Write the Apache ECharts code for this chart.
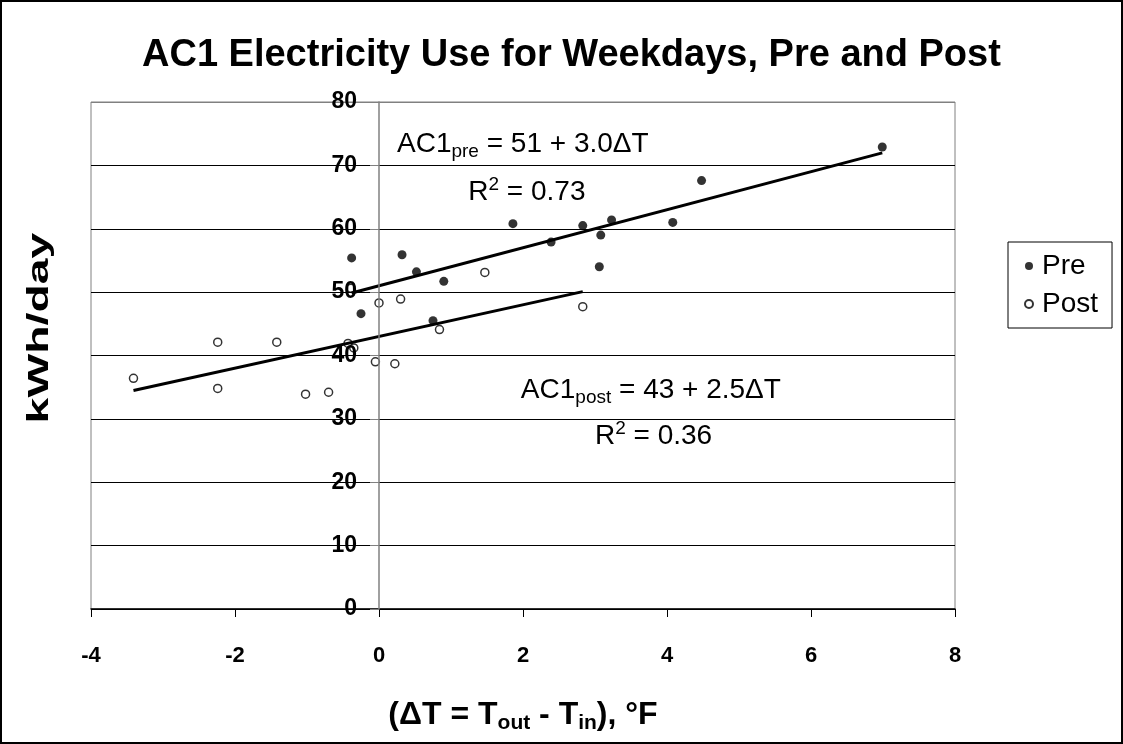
<!DOCTYPE html>
<html>
<head>
<meta charset="utf-8">
<script src="https://cdn.jsdelivr.net/npm/echarts/dist/echarts.min.js"></script>
<style>
html, body { margin: 0; padding: 0; background: #fff; }
#main { width: 1123px; height: 744px; }
</style>
</head>
<body>
<div id="main"></div>
<script>
// pre period, weekdays: dT (F) and kWh/day
var preX = [-0.38, 0.32, 0.52, 0.90, -0.25, 0.75, 1.86, 2.39, 2.83, 3.08, 3.23, 3.06, 4.08, 4.48, 6.99];
var preY = [55.4, 55.9, 53.2, 51.7, 46.6, 45.5, 60.8, 57.9, 60.5, 59.0, 61.4, 54.0, 61.0, 67.6, 72.9];
// post period
var postX = [-0.39, 0.00, 0.30, 1.47, 0.84, -2.24, -1.42, -0.43, -0.35, -0.05, 0.22, -3.41, -2.24, -1.02, -0.70, 2.83];
var postY = [50.6, 48.3, 48.9, 53.1, 44.1, 42.1, 42.1, 41.9, 41.2, 39.0, 38.7, 36.4, 34.8, 33.9, 34.2, 47.7];
// fitted lines: [intercept, slope]
var preFit = [51, 3.0];
var postFit = [43, 2.5];
var xTicks = [-4, -2, 0, 2, 4, 6, 8];
var yTicks = [0, 10, 20, 30, 40, 50, 60, 70, 80];

var FONT = "'Liberation Sans', Arial, sans-serif";
var GRID = { left: 91, right: 168, top: 102, bottom: 135 };
var W = 1123;

function pairs(xs, ys) {
	var out = [];
	for (var i = 0; i < xs.length; i++) out.push([xs[i], ys[i]]);
	return out;
}
function fitLine(xs, fit) {
	var lo = Math.min.apply(null, xs), hi = Math.max.apply(null, xs);
	return [[lo, fit[0] + fit[1] * lo], [hi, fit[0] + fit[1] * hi]];
}

// y axis crosses at x = 0
var xMin = xTicks[0], xMax = xTicks[xTicks.length - 1];
var gridW = W - GRID.left - GRID.right;
var yAxisShift = (0 - xMin) / (xMax - xMin) * gridW;

var chart = echarts.init(document.getElementById('main'));

var option = {
	animation: false,
	backgroundColor: '#fff',
	title: {
		text: 'AC1 Electricity Use for Weekdays, Pre and Post',
		left: 137,
		top: 32,
		textStyle: { fontFamily: FONT, fontWeight: 'bold', fontSize: 38, color: '#000' }
	},
	legend: {
		data: ['Pre', 'Post'],
		orient: 'vertical',
		left: 1008,
		top: 242,
		padding: [10, 14, 10, 16],
		itemGap: 10,
		itemWidth: 8,
		itemHeight: 8,
		borderColor: '#000',
		borderWidth: 1,
		textStyle: { fontFamily: FONT, fontSize: 28, color: '#000', padding: [0, 0, 0, 4] }
	},
	grid: {
		left: GRID.left, right: GRID.right, top: GRID.top, bottom: GRID.bottom,
		show: true, borderColor: '#808080', borderWidth: 1
	},
	xAxis: {
		type: 'value',
		min: xMin, max: xMax, interval: 2,
		axisLine: { onZero: false, lineStyle: { color: '#000', width: 1.5 } },
		axisTick: { show: true, length: 8, lineStyle: { color: '#000' } },
		axisLabel: { margin: 36, fontFamily: FONT, fontWeight: 'bold', fontSize: 22, color: '#000' },
		splitLine: { show: false },
		name: '(ΔT = T{s|out} - T{s|in}), °F',
		nameLocation: 'middle',
		nameGap: 87,
		nameTextStyle: {
			fontFamily: FONT, fontWeight: 'bold', fontSize: 32, color: '#000', lineHeight: 38,
			rich: { s: { fontFamily: FONT, fontWeight: 'bold', fontSize: 21, color: '#000', verticalAlign: 'bottom', lineHeight: 22 } }
		}
	},
	yAxis: {
		type: 'value',
		position: 'left',
		offset: -yAxisShift,
		min: yTicks[0], max: yTicks[yTicks.length - 1], interval: 10,
		axisLine: { show: true, onZero: false, lineStyle: { color: '#808080', width: 1.5 } },
		axisTick: { show: true, length: 9, lineStyle: { color: '#808080' } },
		axisLabel: { margin: 22, fontFamily: FONT, fontWeight: 'bold', fontSize: 23, color: '#000' },
		splitLine: {
			show: true,
			lineStyle: { color: ['#000', '#000', '#000', '#000', '#000', '#000', '#000', '#000', '#808080'], width: 1 }
		},
		z: 5
	},
	series: [{
		name: 'Pre',
		type: 'scatter',
		symbol: 'circle',
		symbolSize: 9,
		itemStyle: { color: '#000' },
		z: 3,
		data: pairs(preX, preY)
	}, {
		name: 'Post',
		type: 'scatter',
		symbol: 'circle',
		symbolSize: 8,
		itemStyle: { color: '#fff', borderColor: '#000', borderWidth: 1.5 },
		z: 3,
		data: pairs(postX, postY)
	}, {
		name: 'Pre fit',
		type: 'line',
		showSymbol: false,
		lineStyle: { color: '#000', width: 3 },
		z: 4,
		data: fitLine(preX, preFit)
	}, {
		name: 'Post fit',
		type: 'line',
		showSymbol: false,
		lineStyle: { color: '#000', width: 3 },
		z: 4,
		data: fitLine(postX, postFit)
	}]
};
chart.setOption(option);

// equations as text boxes, anchored in data space
var richStyle = {
	m: { fontFamily: FONT, fontSize: 28, color: '#000', lineHeight: 34 },
	b: { fontFamily: FONT, fontSize: 19, color: '#000', verticalAlign: 'bottom', lineHeight: 20 },
	p: { fontFamily: FONT, fontSize: 19, color: '#000', verticalAlign: 'top', lineHeight: 20 }
};
var notes = [
	{ at: [0.25, 73.3], text: '{m|AC1}{b|pre}{m| = 51 + 3.0ΔT}' },
	{ at: [1.24, 65.8], text: '{m|R}{p|2}{m| = 0.73}' },
	{ at: [1.97, 34.5], text: '{m|AC1}{b|post}{m| = 43 + 2.5ΔT}' },
	{ at: [3.0, 27.2], text: '{m|R}{p|2}{m| = 0.36}' }
];
var graphics = [{
	type: 'rect',
	shape: { x: 1, y: 1, width: 1121, height: 742 },
	style: { fill: null, stroke: '#000', lineWidth: 2 },
	silent: true
}, {
	type: 'text',
	x: 40, y: 328,
	rotation: Math.PI / 2,
	scaleX: 1.6,
	style: { text: 'kWh/day', fontFamily: FONT, fontWeight: 'bold', fontSize: 29, fill: '#000', align: 'center', verticalAlign: 'middle' }
}];
notes.forEach(function(n) {
	var p = chart.convertToPixel({ gridIndex: 0 }, n.at);
	graphics.push({
		type: 'text',
		x: p[0], y: p[1],
		style: { text: n.text, rich: richStyle, align: 'left', verticalAlign: 'middle' },
		z: 10
	});
});
chart.setOption({ graphic: graphics });
</script>
</body>
</html>
